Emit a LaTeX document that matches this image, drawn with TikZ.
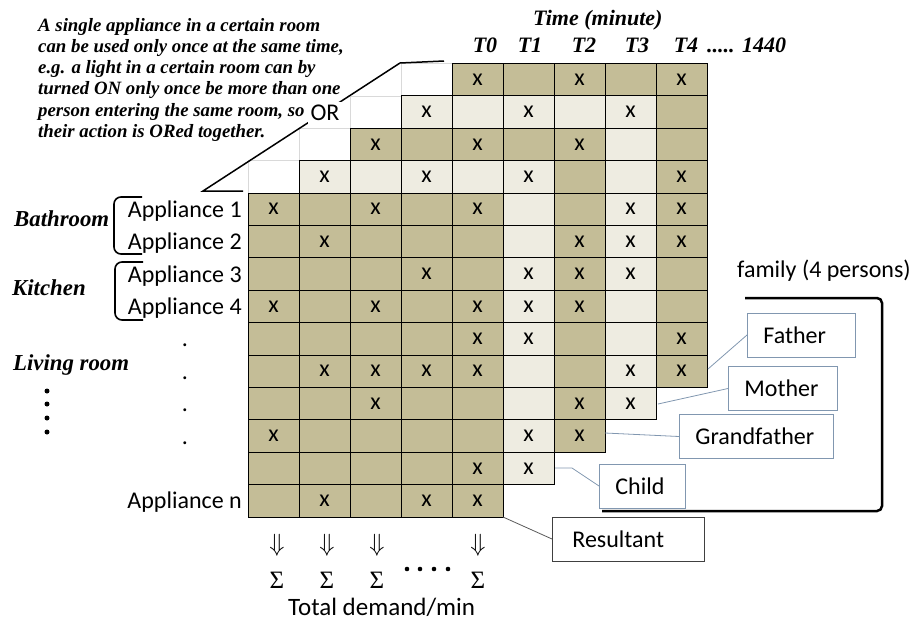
\documentclass[tikz,border=0pt]{standalone}
\usepackage{fontspec}
\setmainfont{Carlito}
\newfontfamily\notefont{Liberation Serif}

\definecolor{tancell}{HTML}{C4BD97}
\definecolor{creamcell}{HTML}{EEECE1}
\definecolor{boxline}{HTML}{8197B0}
\definecolor{gridgray}{HTML}{D9D9D9}

\tikzset{
  cell/.style={draw=black, line width=0.8pt},
  blank/.style={draw=gridgray, line width=0.6pt},
  onmark/.style={inner sep=0pt, font=\fontsize{24}{28}\selectfont},
  sanstext/.style={inner sep=0pt, font=\fontsize{24}{28}\selectfont},
  serifbi/.style={inner sep=0pt, font=\notefont\bfseries\itshape\fontsize{22}{26}\selectfont},
  roomtext/.style={inner sep=0pt, font=\notefont\bfseries\itshape\fontsize{22.8}{26}\selectfont},
  person/.style={draw=boxline, fill=white, line width=0.8pt, anchor=west,
    align=left, inner xsep=16pt, minimum height=44pt, font=\fontsize{24}{28}\selectfont},
  link/.style={draw=boxline, line width=0.8pt},
  roombrace/.style={line width=1.6pt, rounded corners=7pt},
}

\begin{document}
\begin{tikzpicture}[x=1pt,y=-1pt]
  \useasboundingbox (0,0) rectangle (916,624);

  % empty sheet cells left of the layer tops
  \foreach \c/\r in {0/3,1/2,2/1,3/0}
    \draw[blank] ({248+51*\c},{63.4+32.4*\r}) rectangle ++(51,32.4);

  % one 5x10 layer per person, back to front
  \foreach \k/\tone in {4/tancell,3/creamcell,2/tancell,1/creamcell,0/tancell}
    \foreach \c in {0,...,4}
      \foreach \r in {0,...,9}
        \draw[cell, fill=\tone] ({248+51*(\k+\c)},{63.4+32.4*(4-\k+\r)}) rectangle ++(51,32.4);

  % switched-on minutes
  \foreach \c/\r in {4/0,6/0,8/0, 3/1,5/1,7/1, 2/2,4/2,6/2, 1/3,3/3,5/3,8/3,
      0/4,2/4,4/4,7/4,8/4, 1/5,6/5,7/5,8/5, 3/6,5/6,6/6,7/6, 0/7,2/7,4/7,5/7,6/7,
      4/8,5/8,8/8, 1/9,2/9,3/9,4/9,7/9,8/9, 2/10,6/10,7/10, 0/11,5/11,6/11,
      4/12,5/12, 1/13,3/13,4/13}
    \node[onmark] (x-\c-\r) at ({273.5+51*\c},{79.6+32.4*\r}) {x};

  % note and OR bracket
  \node[inner sep=0pt, anchor=north west, align=left,
    font=\notefont\bfseries\itshape\fontsize{18.8}{21.2}\selectfont] (note) at (38,18)
    {A single appliance in a certain room\\
     can be used only once at the same time,\\
     e.g. a light in a certain room can by\\
     turned ON only once be more than one\\
     person entering the same room, so\\
     their action is ORed together.};
  \coordinate (orlow) at (203,191);
  \coordinate (orhigh) at (400,63);
  \draw[line width=1.5pt] (243,191) -- (orlow) -- (orhigh) -- (444,61);
  \node[sanstext, fill=white, inner sep=3pt] (or) at (325,113) {OR};

  % time axis
  \node[serifbi, anchor=base west] (time) at (533,25) {Time (minute)};
  \foreach \t/\xpos in {0/485,1/530,2/584,3/637,4/686}
    \node[serifbi, anchor=base] (t\t) at (\xpos,52) {T\t};
  \node[serifbi, anchor=base west] (tend) at (707,52) {..... 1440};

  % appliances and rooms
  \foreach \n/\r in {1/4,2/5,3/6,4/7,n/13}
    \node[sanstext, anchor=base east] (app\n) at (242,{87.6+32.4*\r}) {Appliance \n};
  \foreach \r in {8,...,11}
    \node[sanstext, anchor=base] (dot\r) at (185,{87.6+32.4*\r}) {.};
  \node[roomtext, anchor=base west] (bathroom) at (14,226) {Bathroom};
  \node[roomtext, anchor=base west] (kitchen) at (12,295) {Kitchen};
  \node[roomtext, anchor=base west] (living) at (13,370) {Living room};
  \draw[roombrace] (142,197) -- (114,197) -- (114,254) -- (142,254);
  \draw[roombrace] (143,262) -- (115,262) -- (115,320) -- (143,320);
  \foreach \y in {391,404,418,432}
    \fill (47,\y) circle (2.5);

  % column sums
  \foreach \xpos [count=\i] in {277,327,377,478} {
    \node[inner sep=0pt, font=\fontsize{24.88}{28}\selectfont] (down\i) at (\xpos,545) {$\Downarrow$};
    \node[inner sep=0pt, font=\notefont\fontsize{25}{28}\selectfont] (sum\i) at (\xpos,580) {Σ};
  }
  \foreach \xpos in {407,420,434,448}
    \fill (\xpos,569) circle (2.3);
  \node[sanstext, anchor=base west, font=\fontsize{25}{28}\selectfont] (total) at (288,615) {Total demand/min};

  % family members
  \node[sanstext, anchor=base west] (family) at (737,277) {family (4 persons)};
  \draw[line width=2.5pt, rounded corners=5pt] (745,298) -- (882,298) -- (882,511) -- (602,511);
  \node[person, text width=76pt] (father) at (747,335) {Father};
  \node[person, text width=77pt] (mother) at (728,388.5) {Mother};
  \node[person, text width=122pt] (grandfather) at (679,436.5) {Grandfather};
  \node[person, text width=54pt] (child) at (599,486) {Child};
  \node[person, draw=black!75, inner xsep=20pt, text width=112pt] (resultant) at (552,539) {Resultant};

  \coordinate (fatherOut) at (708,369);
  \coordinate (motherOut) at (658,404);
  \coordinate (grandOut) at (605,433);
  \coordinate (childOut) at (555,468);
  \coordinate (resOut) at (503,517);
  \draw[link] (fatherOut) -- (father.west);
  \draw[link] (motherOut) -- (mother.west);
  \draw[link] (grandOut) -- (grandfather.west);
  \draw[link] (childOut) -- ++(17,0) -- (child.west);
  \draw[link, draw=black!65] (resOut) -- (resultant.west);
\end{tikzpicture}
\end{document}
